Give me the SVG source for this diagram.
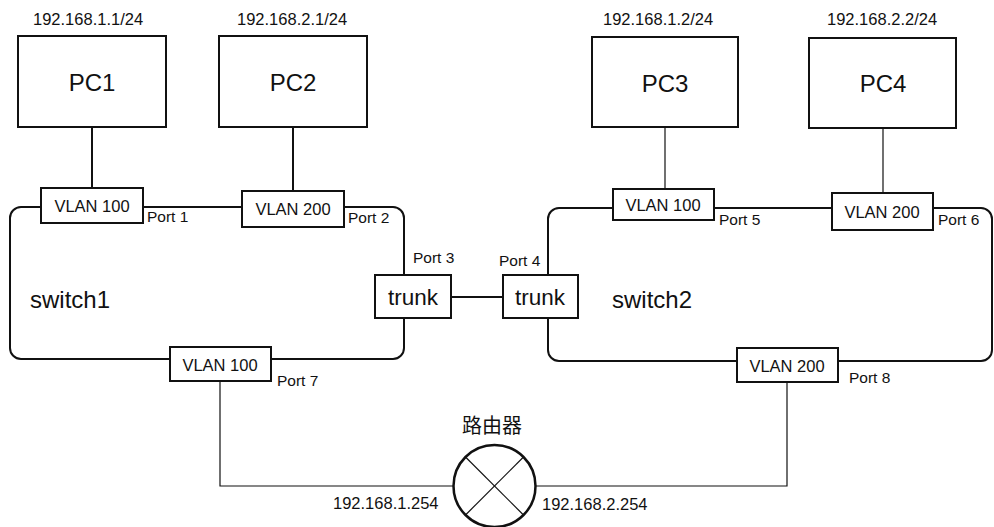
<svg xmlns="http://www.w3.org/2000/svg" width="994" height="527" viewBox="0 0 994 527">
<style>
.t{font-family:"Liberation Sans",Arial,sans-serif;fill:#111}
.ip{font-size:16.5px}
.pc{font-size:24px}
.v{font-size:16.5px}
.p{font-size:15.5px}
.sw{font-size:24px}
.tr{font-size:22.5px}
.box{fill:#fff;stroke:#111;stroke-width:2}
.ln{fill:none;stroke:#111;stroke-width:2}
.thin{fill:none;stroke:#111;stroke-width:1.2}
</style>
<rect width="994" height="527" fill="#fff"/>
<g id="switch1"><rect x="10" y="207" width="394" height="152" rx="11" class="ln"/><text class="t sw" x="30" y="308">switch1</text></g>
<g id="switch2"><rect x="548" y="208" width="444" height="153" rx="11" class="ln"/><text class="t sw" x="612" y="308">switch2</text></g>
<g id="connectors">
<line x1="92" y1="127" x2="92" y2="188" class="ln"/>
<line x1="293" y1="127" x2="293" y2="191" class="ln"/>
<line x1="665" y1="127" x2="665" y2="189" class="thin"/>
<line x1="883" y1="128" x2="883" y2="193" class="thin"/>
<line x1="451" y1="297" x2="503" y2="297" class="ln"/>
<polyline points="220,381 220,486 453,486" class="thin"/>
<polyline points="536,486 787,486 787,382" class="thin"/>
</g>
<g id="pc1"><rect x="18" y="36" width="148" height="91" class="box"/><text class="t pc" x="92" y="91" text-anchor="middle">PC1</text><text class="t ip" x="33" y="25">192.168.1.1/24</text></g>
<g id="pc2"><rect x="219" y="36" width="148" height="91" class="box"/><text class="t pc" x="293" y="91" text-anchor="middle">PC2</text><text class="t ip" x="237" y="25">192.168.2.1/24</text></g>
<g id="pc3"><rect x="592" y="37" width="146" height="90" class="box"/><text class="t pc" x="665" y="92" text-anchor="middle">PC3</text><text class="t ip" x="603" y="25">192.168.1.2/24</text></g>
<g id="pc4"><rect x="809" y="38" width="147" height="90" class="box"/><text class="t pc" x="883" y="92" text-anchor="middle">PC4</text><text class="t ip" x="827" y="25">192.168.2.2/24</text></g>
<g id="port1"><rect x="41" y="188" width="102" height="35" class="box"/><text class="t v" x="92" y="212" text-anchor="middle">VLAN 100</text><text class="t p" x="147" y="222">Port 1</text></g>
<g id="port2"><rect x="242" y="191" width="102" height="36" class="box"/><text class="t v" x="293" y="215" text-anchor="middle">VLAN 200</text><text class="t p" x="348" y="223">Port 2</text></g>
<g id="port3"><rect x="375" y="275" width="76" height="43" class="box"/><text class="t tr" x="413" y="305" text-anchor="middle">trunk</text><text class="t p" x="413" y="263">Port 3</text></g>
<g id="port4"><rect x="503" y="275" width="75" height="43" class="box"/><text class="t tr" x="540" y="305" text-anchor="middle">trunk</text><text class="t p" x="499" y="266">Port 4</text></g>
<g id="port5"><rect x="613" y="189" width="101" height="31" class="box"/><text class="t v" x="663" y="211" text-anchor="middle">VLAN 100</text><text class="t p" x="719" y="225">Port 5</text></g>
<g id="port6"><rect x="832" y="193" width="101" height="37" class="box"/><text class="t v" x="882" y="218" text-anchor="middle">VLAN 200</text><text class="t p" x="938" y="225">Port 6</text></g>
<g id="port7"><rect x="170" y="347" width="101" height="34" class="box"/><text class="t v" x="220" y="371" text-anchor="middle">VLAN 100</text><text class="t p" x="277" y="386">Port 7</text></g>
<g id="port8"><rect x="737" y="348" width="101" height="34" class="box"/><text class="t v" x="787" y="372" text-anchor="middle">VLAN 200</text><text class="t p" x="849" y="383">Port 8</text></g>
<g id="router">
<circle cx="494.5" cy="486" r="41" fill="#fff" stroke="#111" stroke-width="2.5"/>
<line x1="465.5" y1="457" x2="523.5" y2="515" class="thin" stroke-width="1.5"/>
<line x1="523.5" y1="457" x2="465.5" y2="515" class="thin" stroke-width="1.5"/>
<text x="492" y="433" text-anchor="middle" style="font-family:'Noto Sans CJK SC',sans-serif;font-size:20px;fill:#111">路由器</text>
<text class="t ip" x="333" y="509">192.168.1.254</text>
<text class="t ip" x="542" y="510">192.168.2.254</text>
</g>
</svg>
